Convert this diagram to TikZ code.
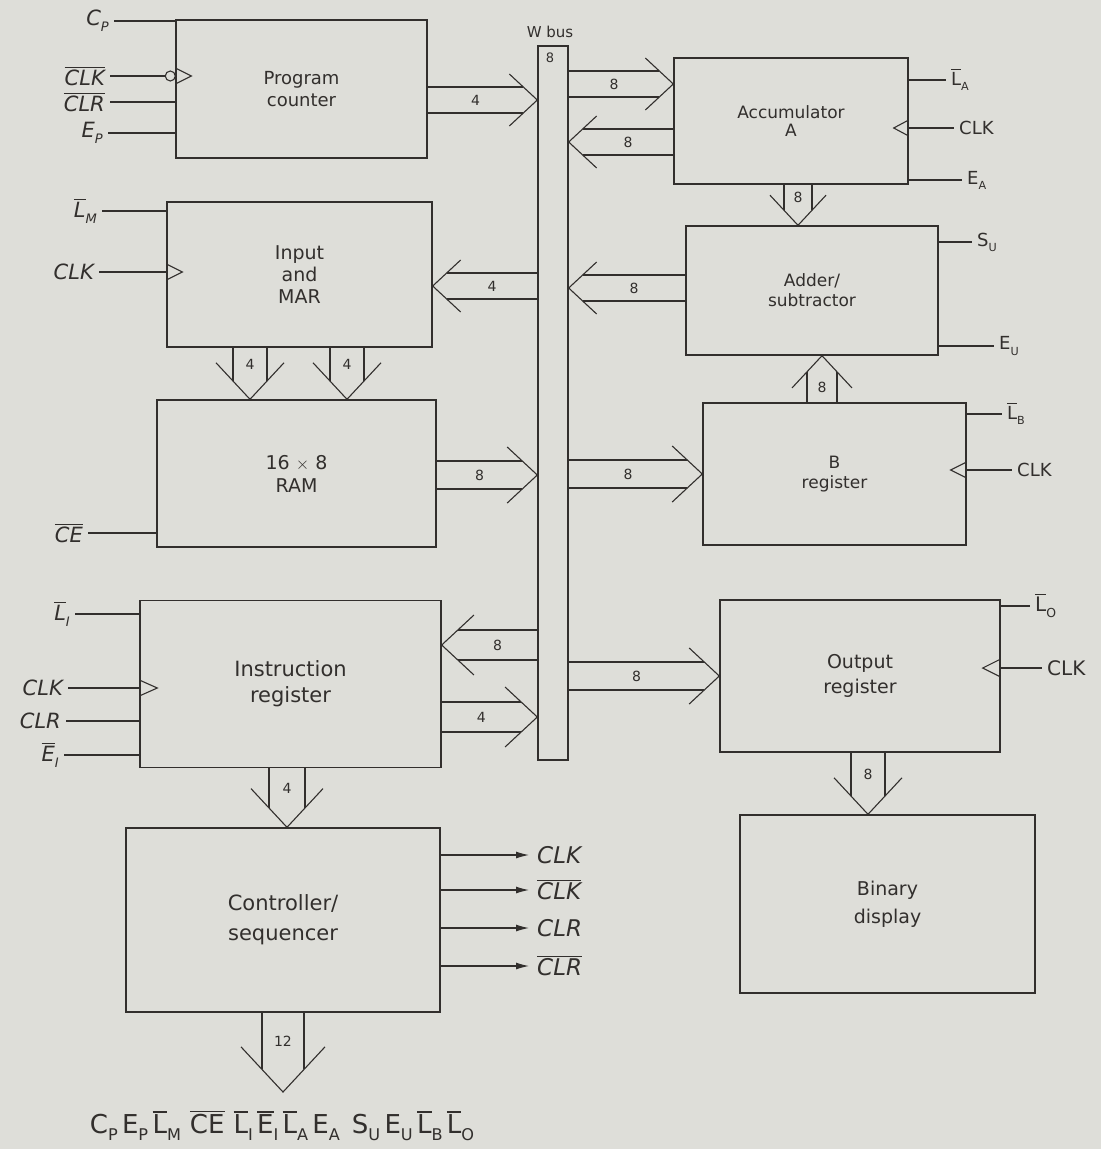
\documentclass[tikz,border=0pt]{standalone}
\usepackage{fontspec}
\setmainfont{DejaVu Sans}
\usepackage{graphicx}
\usetikzlibrary{calc,arrows.meta}
\definecolor{paper}{RGB}{222,222,217}
\definecolor{ink}{RGB}{50,47,45}
\newcommand\ovl[1]{\leavevmode\setbox0\hbox{#1}\rlap{\rule[\dimexpr\ht0+2pt\relax]{\wd0}{1.1pt}}\box0\relax}
\newcommand\sbs[1]{\raisebox{-0.28em}{\scalebox{0.62}{#1}}}
\newcommand\busar[5][13]{%
  \pgfmathsetmacro\bLs{1.075*#1}%
  \pgfmathsetmacro\bL{2.15*#1}%
  \pgfmathsetmacro\bW{2*#1}%
  \coordinate (ba) at #2; \coordinate (bb) at #3;
  \coordinate (bp) at ($(bb)!\bLs pt!(ba)$);
  \coordinate (bq) at ($(bb)!\bL pt!(ba)$);
  \draw[bar] ($(ba)!#1pt!90:(bb)$) -- ($(bp)!#1pt!-90:(ba)$);
  \draw[bar] ($(ba)!#1pt!-90:(bb)$) -- ($(bp)!#1pt!90:(ba)$);
  \draw[bar] ($(bq)!\bW pt!-90:(ba)$) -- (bb) -- ($(bq)!\bW pt!90:(ba)$);
  \node[num] (#5) at ($(ba)!0.5!(bp)$) {#4};
}
\tikzset{
  box/.style={draw=ink, line width=1.4pt, align=center, inner sep=0pt, text=ink},
  bar/.style={draw=ink, line width=1.1pt},
  sig/.style={draw=ink, line width=1.1pt},
  num/.style={inner sep=0pt, text=ink, font=\fontsize{14}{16}\selectfont},
  lab/.style={inner sep=5pt, text=ink, font=\fontsize{21}{24}\selectfont\itshape},
  rlab/.style={inner sep=5pt, text=ink, font=\fontsize{18}{22}\selectfont},
  olab/.style={inner sep=5pt, text=ink, font=\fontsize{23}{26}\selectfont\itshape},
}
\begin{document}
\begin{tikzpicture}[x=1pt, y=-1pt]
\useasboundingbox[fill=paper] (0,0) rectangle (1101,1149);

% ---- boxes ----
\node[box, minimum width=251, minimum height=138, font=\fontsize{18}{22}\selectfont] (pc) at (301.5,89) {Program\\counter};
\node[box, minimum width=265, minimum height=145, font=\fontsize{19}{22}\selectfont] (mar) at (299.5,274.5) {Input\\and\\MAR};
\node[box, minimum width=279, minimum height=147, font=\fontsize{19}{23}\selectfont] (ram) at (296.5,473.5) {16 $\times$ 8\\RAM};
\node[box, minimum width=301, minimum height=167, font=\fontsize{21}{26}\selectfont] (ir) at (290.5,684) {Instruction\\register};
\node[box, minimum width=314, minimum height=184, font=\fontsize{21}{30}\selectfont] (ctl) at (283,920) {Controller/\\sequencer};
\node[box, minimum width=234, minimum height=126, font=\fontsize{17}{18}\selectfont] (acc) at (791,121) {Accumulator\\A};
\node[box, minimum width=252, minimum height=129, font=\fontsize{17}{20}\selectfont] (add) at (812,290.5) {Adder/\\subtractor};
\node[box, minimum width=263, minimum height=142, font=\fontsize{17}{20}\selectfont] (breg) at (834.5,474) {B\\register};
\node[box, minimum width=280, minimum height=152, font=\fontsize{19}{25}\selectfont] (out) at (860,676) {Output\\register};
\node[box, minimum width=295, minimum height=178, font=\fontsize{19}{28}\selectfont] (disp) at (887.5,904) {Binary\\display};

% ---- W bus ----
\node[box, minimum width=30, minimum height=714] (bus) at (553,403) {};
\node[num, font=\fontsize{15}{17}\selectfont] (wbus) at (550,32) {W bus};
\node[num, font=\fontsize{13}{15}\selectfont] (bus8) at (550,58) {8};

% ---- bus arrows ----
\busar{(pc.east |- 0,100)}{(bus.west |- 0,100)}{4}{n1}
\busar{(bus.east |- 0,84)}{(acc.west |- 0,84)}{8}{n2}
\busar{(acc.west |- 0,142)}{(bus.east |- 0,142)}{8}{n3}
\busar{(bus.west |- 0,286)}{(mar.east |- 0,286)}{4}{n4}
\busar{(add.west |- 0,288)}{(bus.east |- 0,288)}{8}{n5}
\busar[17]{(mar.south -| 250,0)}{(ram.north -| 250,0)}{4}{n6}
\busar[17]{(mar.south -| 347,0)}{(ram.north -| 347,0)}{4}{n7}
\busar[14]{(ram.east |- 0,475)}{(bus.west |- 0,475)}{8}{n8}
\busar[14]{(bus.east |- 0,474)}{(breg.west |- 0,474)}{8}{n9}
\busar[15]{(breg.north -| 822,0)}{(add.south -| 822,0)}{8}{n10}
\busar[14]{(acc.south -| 798,0)}{(add.north -| 798,0)}{8}{n11}
\busar[15]{(bus.west |- 0,645)}{(ir.east |- 0,645)}{8}{n12}
\busar[15]{(ir.east |- 0,717)}{(bus.west |- 0,717)}{4}{n13}
\busar[14]{(bus.east |- 0,676)}{(out.west |- 0,676)}{8}{n14}
\busar[18]{(ir.south -| 287,0)}{(ctl.north -| 287,0)}{4}{n15}
\busar[17]{(out.south -| 868,0)}{(disp.north -| 868,0)}{8}{n16}
\coordinate (ctip) at (283,1092);
\busar[21]{(ctl.south -| 283,0)}{(ctip)}{12}{n17}

% ---- program counter inputs ----
\node[lab, anchor=east] (cp) at (114,21) {C\sbs{P}};
\node[lab, anchor=east] (clkb) at (110,76) {\ovl{CLK}};
\node[lab, anchor=east] (clrb) at (110,102) {\ovl{CLR}};
\node[lab, anchor=east] (ep) at (108,133) {E\sbs{P}};
\node[circle, draw=ink, line width=1.1pt, inner sep=0pt, minimum size=10pt] (bub) at ($(pc.west |- clkb.east)+(-5,0)$) {};
\draw[sig] (cp.east) -- (cp.east -| pc.west);
\draw[sig] (clkb.east) -- (bub.west);
\draw[sig] (clrb.east) -- (clrb.east -| pc.west);
\draw[sig] (ep.east) -- (ep.east -| pc.west);
\draw[sig] ($(pc.west |- clkb.east)+(0,-8)$) -- ++(16,8) -- ++(-16,8);

% ---- MAR inputs ----
\node[lab, anchor=east] (lm) at (102,211) {\ovl{L}\sbs{M}};
\node[lab, anchor=east] (clkm) at (99,272) {CLK};
\draw[sig] (lm.east) -- (lm.east -| mar.west);
\draw[sig] (clkm.east) -- (clkm.east -| mar.west);
\draw[sig] ($(mar.west |- clkm.east)+(0,-8)$) -- ++(16,8) -- ++(-16,8);

% ---- RAM input ----
\node[lab, anchor=east] (ce) at (88,533) {\ovl{CE}};
\draw[sig] (ce.east) -- (ce.east -| ram.west);

% ---- IR inputs ----
\node[lab, anchor=east] (li) at (75,614) {\ovl{L}\sbs{I}};
\node[lab, anchor=east] (clki) at (68,688) {CLK};
\node[lab, anchor=east] (clri) at (66,721) {CLR};
\node[lab, anchor=east] (ei) at (64,755) {\ovl{E}\sbs{I}};
\draw[sig] (li.east) -- (li.east -| ir.west);
\draw[sig] (clki.east) -- (clki.east -| ir.west);
\draw[sig] (clri.east) -- (clri.east -| ir.west);
\draw[sig] (ei.east) -- (ei.east -| ir.west);
\draw[sig] ($(ir.west |- clki.east)+(0,-8)$) -- ++(18,8) -- ++(-18,8);

% ---- accumulator signals ----
\node[rlab, anchor=west] (la) at (946,80) {\ovl{L}\sbs{A}};
\node[rlab, anchor=west] (clka) at (954,128) {CLK};
\node[rlab, anchor=west] (ea) at (962,180) {E\sbs{A}};
\draw[sig] (la.west -| acc.east) -- (la.west);
\draw[sig] (clka.west -| acc.east) -- (clka.west);
\draw[sig] (ea.west -| acc.east) -- (ea.west);
\draw[sig] ($(acc.east |- clka.west)+(0,-8)$) -- ++(-15,8) -- ++(15,8);

% ---- adder signals ----
\node[rlab, anchor=west] (su) at (972,242) {S\sbs{U}};
\node[rlab, anchor=west] (eu) at (994,346) {E\sbs{U}};
\draw[sig] (su.west -| add.east) -- (su.west);
\draw[sig] (eu.west -| add.east) -- (eu.west);

% ---- B register signals ----
\node[rlab, anchor=west] (lb) at (1002,414) {\ovl{L}\sbs{B}};
\node[rlab, anchor=west] (clkb2) at (1012,470) {CLK};
\draw[sig] (lb.west -| breg.east) -- (lb.west);
\draw[sig] (clkb2.west -| breg.east) -- (clkb2.west);
\draw[sig] ($(breg.east |- clkb2.west)+(0,-8)$) -- ++(-16,8) -- ++(16,8);

% ---- output register signals ----
\node[rlab, anchor=west, font=\fontsize{20}{24}\selectfont] (lo) at (1030,606) {\ovl{L}\sbs{O}};
\node[rlab, anchor=west, font=\fontsize{20}{24}\selectfont] (clko) at (1042,668) {CLK};
\draw[sig] (lo.west -| out.east) -- (lo.west);
\draw[sig] (clko.west -| out.east) -- (clko.west);
\draw[sig] ($(out.east |- clko.west)+(0,-9)$) -- ++(-18,9) -- ++(18,9);

% ---- controller outputs ----
\node[olab, anchor=west] (o1) at (532,855) {CLK};
\node[olab, anchor=west] (o2) at (532,890) {\ovl{CLK}};
\node[olab, anchor=west] (o3) at (532,928) {CLR};
\node[olab, anchor=west] (o4) at (532,966) {\ovl{CLR}};
\foreach \o in {o1,o2,o3,o4}
  \draw[sig, -{Latex[length=13pt,width=7pt]}, shorten >=3pt] (ctl.east |- \o.west) -- (\o.west);

% ---- control word ----
\node[inner sep=0pt, text=ink, font=\fontsize{26}{30}\selectfont] (cw) at (282,1126)
  {C\sbs{P}\,E\sbs{P}\,\ovl{L}\sbs{M}\hspace{9pt}\ovl{CE}\hspace{9pt}\ovl{L}\sbs{I}\,\ovl{E}\sbs{I}\,\ovl{L}\sbs{A}\,E\sbs{A}\hspace{12pt}S\sbs{U}\,E\sbs{U}\,\ovl{L}\sbs{B}\,\ovl{L}\sbs{O}};
\end{tikzpicture}
\end{document}
